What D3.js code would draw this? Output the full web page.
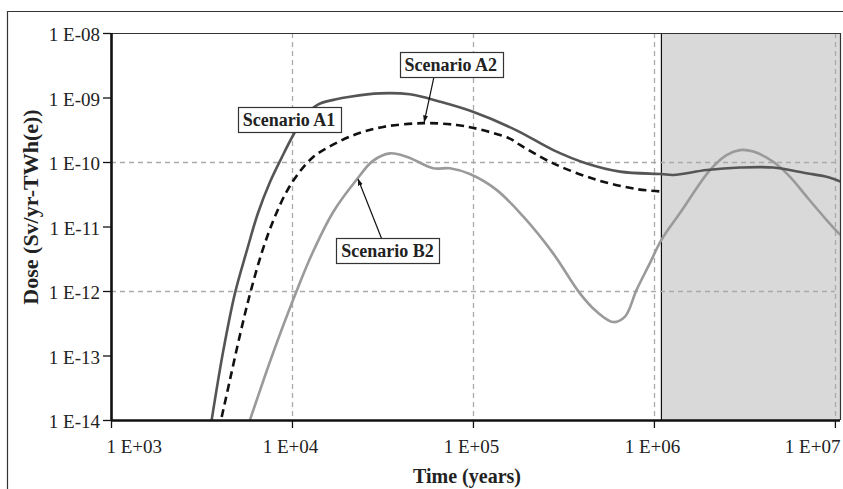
<!DOCTYPE html>
<html><head><meta charset="UTF-8">
<script src="https://d3js.org/d3.v7.min.js"></script>
<style>
body{margin:0;background:#fff;overflow:hidden}
svg{display:block}
text{font-family:"Liberation Serif","Times New Roman",serif;fill:#222}
</style></head><body><div id="chart"></div>
<script>
// time in years, dose in Sv/yr-TWh(e)
const a1Time = [3600, 4160, 4840, 5640, 6490, 7560, 8810, 1.01e4, 1.18e4, 1.39e4, 1.73e4, 2.09e4, 3.06e4, 4.48e4, 6.58e4, 1.0e5, 1.74e5, 2.78e5, 4.25e5, 6.49e5, 1.10e6, 1.28e6, 1.96e6, 2.99e6, 4.56e6, 6.98e6, 9.0e6, 1.07e7];
const a1Dose = [1e-14, 1.13e-13, 9.2e-13, 4.3e-12, 1.62e-11, 4.9e-11, 1.2e-10, 2.53e-10, 5.16e-10, 7.78e-10, 9.31e-10, 1.03e-9, 1.16e-9, 1.12e-9, 8.6e-10, 6.0e-10, 3.1e-10, 1.53e-10, 9.5e-11, 7.1e-11, 6.5e-11, 6.3e-11, 7.5e-11, 8.2e-11, 8.2e-11, 6.7e-11, 5.9e-11, 5.0e-11];

const a2Time = [4090, 4540, 5160, 5860, 6830, 7950, 9380, 1.11e4, 1.31e4, 1.56e4, 2.18e4, 3.19e4, 5.31e4, 8.13e4, 1.09e5, 1.60e5, 1.82e5, 2.78e5, 4.82e5, 8.02e5, 1.08e6];
const a2Dose = [1.11e-14, 4.17e-14, 2.08e-13, 8.97e-13, 4.03e-12, 1.31e-11, 3.55e-11, 7.24e-11, 1.20e-10, 1.65e-10, 2.6e-10, 3.5e-10, 4.0e-10, 3.75e-10, 3.2e-10, 2.3e-10, 1.84e-10, 9.5e-11, 5.3e-11, 3.8e-11, 3.5e-11];

const b2Time = [5860, 7090, 8590, 1.05e4, 1.29e4, 1.69e4, 2.29e4, 2.80e4, 3.48e4, 4.30e4, 6.04e4, 7.46e4, 9.62e4, 1.35e5, 1.90e5, 2.78e5, 3.90e5, 4.82e5, 5.96e5, 6.92e5, 8.02e5, 9.50e5, 1.10e6, 1.39e6, 2.04e6, 2.52e6, 2.99e6, 3.54e6, 4.56e6, 5.65e6, 6.98e6, 9.0e6, 1.07e7];
const b2Dose = [1e-14, 4.81e-14, 2.15e-13, 9.31e-13, 3.75e-12, 1.68e-11, 5.44e-11, 1.04e-10, 1.36e-10, 1.21e-10, 8.0e-11, 8.0e-11, 6.5e-11, 3.7e-11, 1.42e-11, 3.8e-12, 9.2e-13, 4.8e-13, 3.3e-13, 4.0e-13, 1.04e-12, 2.7e-12, 6.2e-12, 1.6e-11, 7.5e-11, 1.28e-10, 1.53e-10, 1.45e-10, 1.01e-10, 5.9e-11, 2.9e-11, 1.26e-11, 7.4e-12];

const xTicks = [1e3, 1e4, 1e5, 1e6, 1e7];
const xTickLabels = ["1 E+03", "1 E+04", "1 E+05", "1 E+06", "1 E+07"];
const yTicks = [1e-8, 1e-9, 1e-10, 1e-11, 1e-12, 1e-13, 1e-14];
const yTickLabels = ["1 E-08", "1 E-09", "1 E-10", "1 E-11", "1 E-12", "1 E-13", "1 E-14"];
const xGrid = [1e4, 1e5, 1e6, 1e7];
const yGrid = [1e-10, 1e-12];
const shadeStart = 1.1e6;

// labels: box centre and optional arrow tip, in data units
const labelNames = ["Scenario A1", "Scenario A2", "Scenario B2"];
const labelAt = [[9620, 4.5e-10], [7.55e4, 3.2e-9], [3.37e4, 4.2e-12]];
const arrowTo = [null, [5.38e4, 4.2e-10], [2.32e4, 5.4e-11]];

const W = 843, H = 489;
const pL = 111, pR = 840, pT = 33, pB = 420;

const x = d3.scaleLog().domain([1e3, 1.067e7]).range([pL, pR]);
const y = d3.scaleLog().domain([1e-14, 1e-8]).range([pB, pT]);

const svg = d3.select("#chart").append("svg").attr("width", W).attr("height", H);

const defs = svg.append("defs");
defs.append("clipPath").attr("id", "clip")
  .append("rect").attr("x", pL).attr("y", pT).attr("width", pR - pL).attr("height", pB - pT);
defs.append("marker").attr("id", "arr")
  .attr("viewBox", "0 0 10 10").attr("refX", 9).attr("refY", 5)
  .attr("markerWidth", 7).attr("markerHeight", 7).attr("markerUnits", "userSpaceOnUse").attr("orient", "auto")
  .append("path").attr("d", "M0,1.5L10,5L0,8.5Z").attr("fill", "#111");

// outer frame
svg.append("path").attr("d", `M7.5,${H}V11.5H${W}`).attr("fill", "none").attr("stroke", "#333").attr("stroke-width", 1.2);

// shaded period
svg.append("rect").attr("x", x(shadeStart)).attr("y", pT)
  .attr("width", pR - x(shadeStart)).attr("height", pB - pT).attr("fill", "#d9d9d9");
svg.append("line").attr("x1", x(shadeStart)).attr("x2", x(shadeStart)).attr("y1", pT).attr("y2", pB)
  .attr("stroke", "#111").attr("stroke-width", 1.2);

// grid
const grid = svg.append("g").attr("stroke", "#aaa").attr("stroke-width", 1.3).attr("stroke-dasharray", "5,4");
grid.selectAll(".vx").data(xGrid).join("line")
  .attr("x1", d => Math.round(x(d)) + 0.5).attr("x2", d => Math.round(x(d)) + 0.5).attr("y1", pT).attr("y2", pB);
grid.selectAll(".hy").data(yGrid).join("line")
  .attr("y1", d => Math.round(y(d)) + 0.5).attr("y2", d => Math.round(y(d)) + 0.5).attr("x1", pL).attr("x2", x(1e7));

// plot border top/right
svg.append("path").attr("d", `M${pL},${pT + 0.5}H${pR + 0.5}V${pB}`)
  .attr("fill", "none").attr("stroke", "#333").attr("stroke-width", 1.2);

// curves
const line = d3.line().x(d => x(d[0])).y(d => y(d[1])).curve(d3.curveCatmullRom.alpha(0.5));
const plot = svg.append("g").attr("clip-path", "url(#clip)").attr("fill", "none").attr("stroke-width", 2.6);
plot.append("path").datum(d3.zip(b2Time, b2Dose)).attr("d", line).attr("stroke", "#9a9a9a");
plot.append("path").datum(d3.zip(a2Time, a2Dose)).attr("d", line).attr("stroke", "#111").attr("stroke-dasharray", "8,5");
plot.append("path").datum(d3.zip(a1Time, a1Dose)).attr("d", line).attr("stroke", "#555");

// axes
const xAxis = svg.append("g").attr("transform", `translate(0,${pB})`)
  .call(d3.axisBottom(x).tickValues(xTicks).tickSize(8).tickFormat((d, i) => xTickLabels[i]));
const yAxis = svg.append("g").attr("transform", `translate(${pL},0)`)
  .call(d3.axisLeft(y).tickValues(yTicks).tickSize(8).tickFormat((d, i) => yTickLabels[i]));
[xAxis, yAxis].forEach(a => {
  a.select(".domain").attr("stroke", "#111").attr("stroke-width", 2.6);
  a.selectAll(".tick line").attr("stroke", "#111").attr("stroke-width", 1.3);
  a.selectAll("text").attr("font-family", "Liberation Serif").attr("font-size", 19).attr("fill", "#222");
});
xAxis.select(".domain").attr("d", `M${pL},0.5H${pR}`);
yAxis.select(".domain").attr("d", `M0.5,${pB + 1}V${pT}`);
xAxis.selectAll(".tick text").attr("dy", "1.18em")
  .attr("text-anchor", (d, i) => i === 0 ? "start" : i === xTicks.length - 1 ? "end" : "middle")
  .attr("dx", (d, i) => i === 0 ? -5 : i === xTicks.length - 1 ? 5 : -2);
yAxis.selectAll(".tick text").attr("x", -11).attr("dy", "0.4em");

// axis titles
svg.append("text").attr("x", 467).attr("y", 483).attr("text-anchor", "middle")
  .attr("font-weight", "bold").attr("font-size", 20).text("Time (years)");
svg.append("text").attr("transform", "translate(38,207) rotate(-90)").attr("text-anchor", "middle")
  .attr("font-weight", "bold").attr("font-size", 22).text("Dose (Sv/yr-TWh(e))");

// scenario labels
labelNames.forEach((name, i) => {
  const cx = x(labelAt[i][0]), cy = y(labelAt[i][1]);
  const g = svg.append("g");
  const t = g.append("text").attr("x", cx).attr("y", cy).attr("dy", "0.34em").attr("text-anchor", "middle")
    .attr("font-weight", "bold").attr("font-size", 18).text(name);
  const bb = t.node().getBBox();
  const bw = bb.width + 10, bh = 25;
  if (arrowTo[i]) {
    const sy = arrowTo[i][1] < labelAt[i][1] ? cy + bh / 2 : cy - bh / 2;
    const sx = cx + (i === 1 ? -17 : -6);
    svg.append("line").attr("x1", sx).attr("y1", sy).attr("x2", x(arrowTo[i][0])).attr("y2", y(arrowTo[i][1]))
      .attr("stroke", "#111").attr("stroke-width", 1.2).attr("marker-end", "url(#arr)");
  }
  g.insert("rect", "text").attr("x", Math.round(cx - bw / 2) + 0.5).attr("y", Math.round(cy - bh / 2) + 0.5)
    .attr("width", Math.round(bw)).attr("height", bh).attr("fill", "#fff").attr("stroke", "#333").attr("stroke-width", 1.2);
  g.raise();
});
</script></body></html>
